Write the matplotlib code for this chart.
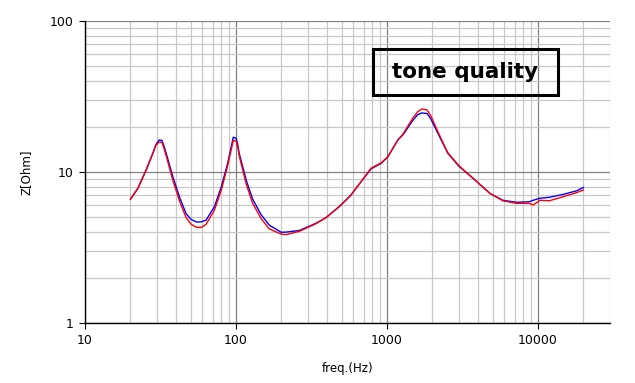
import matplotlib
matplotlib.use("Agg")
from matplotlib import pyplot as plt
from matplotlib.patches import Rectangle
from matplotlib.ticker import FixedLocator, LogLocator, NullFormatter

# frequency points (Hz) and impedance of the two measurements (Ohm)
freq = [20, 22.4, 25.4, 28.1, 29.5, 31, 32.3, 33.3, 34.5, 38.2, 42.3,
        46.7, 50.5, 55, 59, 63.4, 72, 80, 88, 92.9, 96, 100.3, 102.9, 105,
        117, 129, 147, 166, 199, 215, 263, 339, 396, 483,
        575, 672, 785, 915, 1013, 1180, 1275, 1485, 1600, 1700, 1840, 1950,
        2200, 2530, 3000, 3710, 4820, 5850, 7200, 8750, 9300, 10300,
        11900, 14600, 18000, 20000]
z_blue = [6.6, 7.8, 10.3, 13.3, 15.2, 16.3, 16.2, 14.9, 13.3, 9.3, 6.8,
          5.3, 4.85, 4.66, 4.68, 4.8, 5.9, 8.0, 11.4, 14.6, 17.0, 16.7, 15.1, 13.3,
          8.8, 6.6, 5.2, 4.45, 3.99, 4.0, 4.1, 4.58, 5.0, 5.9,
          7.0, 8.6, 10.5, 11.4, 12.6, 16.3, 17.6, 22.0, 24.0, 24.6, 24.4, 22.5,
          17.6, 13.3, 10.9, 9.1, 7.2, 6.5, 6.3, 6.35, 6.5, 6.7,
          6.8, 7.1, 7.5, 7.9]
z_red = [6.6, 7.8, 10.3, 13.2, 15.0, 15.8, 15.7, 14.4, 12.8, 8.8, 6.4,
         5.0, 4.5, 4.3, 4.3, 4.5, 5.6, 7.6, 11.0, 14.0, 16.2, 16.0, 14.5, 12.8,
         8.3, 6.2, 4.9, 4.2, 3.88, 3.85, 4.05, 4.55, 5.0, 5.9,
         7.0, 8.6, 10.6, 11.5, 12.6, 16.3, 17.8, 22.8, 25.1, 26.1, 25.8, 23.6,
         18.0, 13.4, 11.0, 9.1, 7.2, 6.45, 6.2, 6.2, 6.05, 6.5,
         6.45, 6.85, 7.3, 7.6]

x_ticks = [10, 100, 1000, 10000]
x_labels = ['10', '100', '1000', '10000']
y_ticks = [1, 10, 100]
y_labels = ['1', '10', '100']
title = 'tone quality'

fig = plt.figure(figsize=(6.35, 3.83), dpi=100)
ax = fig.add_axes([85 / 635, 1 - 323 / 383, 525 / 635, 302 / 383])

ax.plot(freq, z_blue, color='#0000ff', lw=1.0)
ax.plot(freq, z_red, color='#ff0000', lw=1.0)

ax.set_xscale('log')
ax.set_yscale('log')
ax.set_xlim(10, 30000)
ax.set_ylim(1, 100)

ax.xaxis.set_major_locator(FixedLocator(x_ticks))
ax.set_xticklabels(x_labels)
ax.yaxis.set_major_locator(FixedLocator(y_ticks))
ax.set_yticklabels(y_labels)
ax.xaxis.set_minor_locator(LogLocator(base=10, subs=range(2, 10)))
ax.yaxis.set_minor_locator(LogLocator(base=10, subs=range(2, 10)))
ax.xaxis.set_minor_formatter(NullFormatter())
ax.yaxis.set_minor_formatter(NullFormatter())

ax.grid(which='minor', color='#c8c8c8', lw=0.9)
ax.grid(which='major', color='#808080', lw=0.9)
ax.set_axisbelow(True)

ax.tick_params(which='major', direction='out', length=4, width=0.8, labelsize=9, pad=4)
ax.tick_params(which='minor', length=0)

for s in ['top', 'right']:
    ax.spines[s].set_visible(False)
for s in ['left', 'bottom']:
    ax.spines[s].set_color('black')
    ax.spines[s].set_linewidth(1.0)

ax.set_xlabel('freq.(Hz)', fontsize=8.5)
ax.set_ylabel('Z[Ohm]', fontsize=8.5)
ax.xaxis.set_label_coords(0.5, -0.129)
ax.yaxis.set_label_coords(-0.099, 0.5)

ax.add_patch(Rectangle((0.548, 0.755), 0.3535, 0.1513, transform=ax.transAxes,
                       fill=False, edgecolor='black', lw=2.2, clip_on=False, zorder=5))
ax.text(0.7248, 0.8305, title, transform=ax.transAxes, ha='center', va='center',
        fontsize=15.5, fontweight='bold', color='black', zorder=6)

fig.savefig('out.png', dpi=100)
